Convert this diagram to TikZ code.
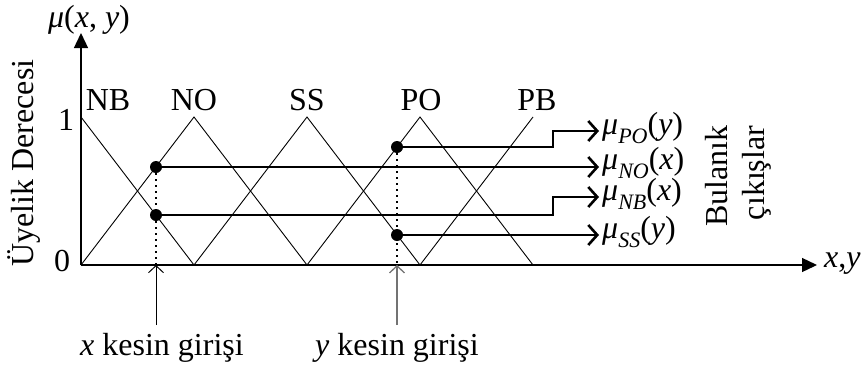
\documentclass[tikz,border=0pt]{standalone}
\usepackage{fontspec}
\setmainfont{Liberation Serif}
\usetikzlibrary{arrows.meta}

% membership value with an italic subscript
\newcommand{\mufunc}[2]{\textit{μ}\raisebox{-0.28em}{\fontsize{22}{22}\selectfont\itshape #1}(\textit{#2})}

\begin{document}
\begin{tikzpicture}[x=1pt,y=-1pt,
  lbl/.style={inner sep=0pt, font=\fontsize{32}{36}\selectfont},
  axisline/.style={line width=1.3pt, -{Triangle[length=15pt,width=14pt]}},
  mf/.style={line width=0.9pt},
  outarrow/.style={line width=2.6pt, -{Straight Barb[length=9pt,width=20pt,line width=2.6pt]}},
  inarrow/.style={line width=1pt, -{Straight Barb[length=7pt,width=15pt]}},
  guide/.style={line width=1.8pt, dash pattern=on 1.8pt off 4.2pt},
  dot/.style={circle, fill=black, inner sep=0pt, minimum size=12pt}]
\useasboundingbox (0,0) rectangle (864,370);

% axes
\coordinate (O) at (81,265);
\coordinate (ytop) at (81,33);
\coordinate (xend) at (817,265);
\draw[axisline] (O) -- (ytop);
\draw[axisline] (O) -- (xend);
\node[lbl] (ylab) at (89,20) {\textit{μ}(\textit{x}, \textit{y})};
\node[lbl, anchor=west] (xlabel) at (824,264) {\textit{x},\textit{y}};
\node[lbl] (one) at (66,120) {1};
\node[lbl] (zero) at (62,261) {0};
\node[lbl, rotate=90] (degree) at (24,163) {Üyelik Derecesi};

% membership functions
\draw[mf] (81,117) -- (194,265);
\draw[mf] (81,265) -- (194,117) -- (307,265);
\draw[mf] (194,265) -- (307,117) -- (420,265);
\draw[mf] (307,265) -- (420,117) -- (533,265);
\draw[mf] (420,265) -- (533,117);
\node[lbl] (nb) at (108,100) {NB};
\node[lbl] (no) at (194,100) {NO};
\node[lbl] (ss) at (307,100) {SS};
\node[lbl] (po) at (421,100) {PO};
\node[lbl] (pb) at (537,100) {PB};

% crisp inputs
\coordinate (xin) at (156,265);
\coordinate (yin) at (397,265);
\coordinate (xfoot) at (156,325);
\coordinate (yfoot) at (397,325);
\node[dot] (dno) at (156,167) {};
\node[dot] (dnb) at (156,215) {};
\node[dot] (dpo) at (397,147) {};
\node[dot] (dss) at (397,235) {};
\draw[guide] (dno) -- (xin);
\draw[guide] (dpo) -- (yin);
\draw[inarrow] (xfoot) -- (xin);
\draw[inarrow, black!55, line width=1.3pt] (yfoot) -- (yin);
\node[lbl] (xcap) at (162,348) {\textit{x} kesin girişi};
\node[lbl] (ycap) at (397,348) {\textit{y} kesin girişi};

% fuzzy outputs
\node[lbl, anchor=west] (opo) at (602,128) {\mufunc{PO}{y}};
\node[lbl, anchor=west] (ono) at (602,163) {\mufunc{NO}{x}};
\node[lbl, anchor=west] (onb) at (602,194) {\mufunc{NB}{x}};
\node[lbl, anchor=west] (oss) at (602,232) {\mufunc{SS}{y}};
\coordinate (tpo) at (599,131);
\coordinate (tno) at (599,167);
\coordinate (tnb) at (599,197);
\coordinate (tss) at (599,235);
\draw[outarrow] (dpo.center) -- (553,147) |- (tpo);
\draw[outarrow] (dno.center) -- (tno);
\draw[outarrow] (dnb.center) -- (553,215) |- (tnb);
\draw[outarrow] (dss.center) -- (tss);
\node[lbl, rotate=90] (fz1) at (717,176) {Bulanık};
\node[lbl, rotate=90] (fz2) at (757,173) {çıkışlar};
\end{tikzpicture}
\end{document}
